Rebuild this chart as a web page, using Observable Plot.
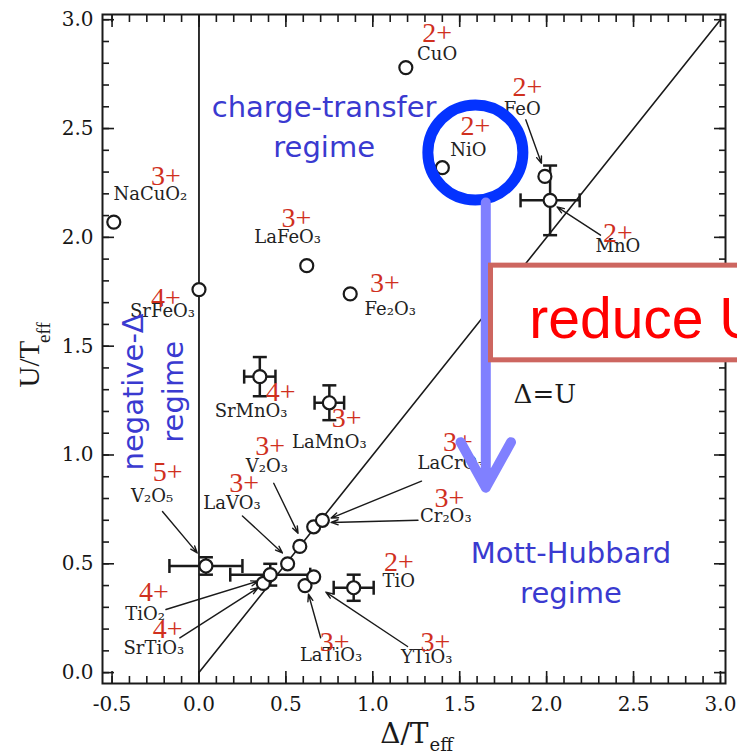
<!DOCTYPE html>
<html><head><meta charset="utf-8">
<script src="https://cdn.jsdelivr.net/npm/d3@7"></script>
<script src="https://cdn.jsdelivr.net/npm/@observablehq/plot@0.6"></script>
<style>
html,body{margin:0;padding:0;background:#fff;overflow:hidden;}
#chart svg{overflow:hidden;display:block;}
</style></head>
<body><div id="chart"></div>
<script>
// ---- data ----
const names   = ["CuO","NiO","FeO","MnO","NaCuO₂","LaFeO₃","SrFeO₃","Fe₂O₃","SrMnO₃","LaMnO₃","V₂O₅","TiO₂","SrTiO₃","LaVO₃","V₂O₃","LaCrO₃","Cr₂O₃","LaTiO₃","YTiO₃","TiO"];
const delta   = [1.19, 1.40, 1.99, 2.02, -0.49, 0.62, 0.00, 0.87, 0.35, 0.75, 0.04, 0.37, 0.41, 0.51, 0.58, 0.66, 0.71, 0.61, 0.66, 0.89];
const uval    = [2.78, 2.32, 2.28, 2.17, 2.07, 1.87, 1.76, 1.74, 1.36, 1.24, 0.49, 0.41, 0.45, 0.50, 0.58, 0.67, 0.70, 0.40, 0.44, 0.39];
const charges = ["2+","2+","2+","2+","3+","3+","4+","3+","4+","3+","5+","4+","4+","3+","3+","3+","3+","3+","3+","2+"];
const deltaErr = [0, 0, 0, 0.17, 0, 0, 0, 0, 0.09, 0.085, 0.21, 0, 0.23, 0, 0, 0, 0, 0, 0, 0.115];
const uErr     = [0, 0, 0, 0.16, 0, 0, 0, 0, 0.09, 0.08, 0.04, 0, 0.05, 0, 0, 0, 0, 0, 0, 0.06];
// label anchor positions (data units)
const labelX  = [1.37, 1.55, 1.86, 2.41, -0.28, 0.51, -0.21, 1.10, 0.30, 0.75, -0.27, -0.31, -0.26, 0.19, 0.39, 1.45, 1.42, 0.76, 1.31, 1.15];
const labelY  = [2.84, 2.40, 2.59, 1.96, 2.20, 2.00, 1.66, 1.67, 1.20, 1.06, 0.81, 0.27, 0.11, 0.78, 0.95, 0.96, 0.72, 0.08, 0.07, 0.42];
const chargeX = [1.37, 1.59, 1.89, 2.41, -0.19, 0.56, -0.19, 1.07, 0.47, 0.85, -0.18, -0.26, -0.18, 0.26, 0.41, 1.49, 1.44, 0.78, 1.36, 1.15];
const chargeY = [2.94, 2.51, 2.69, 2.02, 2.28, 2.09, 1.72, 1.79, 1.29, 1.17, 0.92, 0.37, 0.20, 0.87, 1.04, 1.06, 0.80, 0.14, 0.14, 0.51];
// leader lines (label -> point)
const leaderX1 = [1.88, 2.31, -0.21, 0.25, 0.43, -0.19, -0.11, 0.70, 1.20, 1.28, 1.26];
const leaderY1 = [2.54, 2.01, 0.74, 0.72, 0.87, 0.29, 0.16, 0.16, 0.12, 0.88, 0.70];
const leaderX2 = [1.97, 2.06, -0.01, 0.48, 0.57, 0.34, 0.34, 0.63, 0.73, 0.76, 0.76];
const leaderY2 = [2.34, 2.14, 0.55, 0.55, 0.64, 0.42, 0.39, 0.36, 0.37, 0.71, 0.69];
// axes
const xTicks = [-0.5, 0.0, 0.5, 1.0, 1.5, 2.0, 2.5, 3.0];
const yTicks = [0.0, 0.5, 1.0, 1.5, 2.0, 2.5, 3.0];
const xMinor = d3.range(-5, 31).map(i => i / 10);
const yMinor = d3.range(0, 31).map(i => i / 10);
const diagonal = [0, 3];
// annotations
const regimeText = ["charge-transfer\nregime", "Mott-Hubbard\nregime"];
const regimeX = [0.72, 2.14];
const regimeY = [2.367, 0.318];
const negText = ["negative-Δ\nregime"];
const negX = [-0.09], negY = [1.29];
const ringX = [1.59], ringY = [2.39];
const reduceArrow = [{x: 1.65, y1: 2.16, y2: 0.85}];
const boxX1 = [1.68], boxX2 = [3.2], boxY1 = [1.435], boxY2 = [1.87];
const reduceText = ["reduce U"], reduceX = [1.90], reduceY = [1.536];
const eqText = ["Δ=U"], eqX = [1.81], eqY = [1.24];

const compounds = names.map((n, i) => ({
  name: n, d: delta[i], u: uval[i], charge: charges[i], de: deltaErr[i], ue: uErr[i],
  lx: labelX[i], ly: labelY[i], cx: chargeX[i], cy: chargeY[i]
}));
const withErr = compounds.filter(c => c.de > 0);
const leaders = leaderX1.map((v, i) => ({x1: v, y1: leaderY1[i], x2: leaderX2[i], y2: leaderY2[i]}));

const vbar = {draw(ctx, size) { const r = Math.sqrt(size / Math.PI); ctx.moveTo(0, -r); ctx.lineTo(0, r); }};
const hbar = {draw(ctx, size) { const r = Math.sqrt(size / Math.PI); ctx.moveTo(-r, 0); ctx.lineTo(r, 0); }};

const serif = "DejaVu Serif";
const ink = "#1a1a1a";
const blue = "#3a3ad0";

const plot = Plot.plot({
  width: 737,
  height: 756,
  marginLeft: 102,
  marginRight: 12,
  marginTop: 14,
  marginBottom: 73,
  x: {domain: [-0.555, 3.029], axis: null},
  y: {domain: [-0.05, 3.024], axis: null},
  style: {fontFamily: serif, background: "white", color: ink},
  marks: [
    // tick labels
    Plot.axisX({ticks: xTicks, anchor: "bottom", tickSize: 0, tickPadding: 13, tickFormat: d => d.toFixed(1), fontSize: 20, label: null, fill: "#161616"}),
    Plot.axisY({ticks: yTicks, anchor: "left", tickSize: 0, tickPadding: 9, tickFormat: d => d.toFixed(1), fontSize: 20, label: null, fill: "#161616"}),
    // inward ticks on all four sides
    ...["bottom", "top"].flatMap(a => [
      Plot.axisX({ticks: xMinor, anchor: a, tickSize: -7, fill: "none", label: null, strokeWidth: 1.6}),
      Plot.axisX({ticks: xTicks, anchor: a, tickSize: -12, fill: "none", label: null, strokeWidth: 1.6})
    ]),
    ...["left", "right"].flatMap(a => [
      Plot.axisY({ticks: yMinor, anchor: a, tickSize: -7, fill: "none", label: null, strokeWidth: 1.6}),
      Plot.axisY({ticks: yTicks, anchor: a, tickSize: -12, fill: "none", label: null, strokeWidth: 1.6})
    ]),
    Plot.frame({stroke: ink, strokeWidth: 2}),
    // axis titles
    Plot.text(["Δ/T"], {frameAnchor: "bottom", textAnchor: "end", lineAnchor: "bottom", dx: 14.5, dy: 59, fontSize: 28, fontFamily: serif, fill: ink}),
    Plot.text(["eff"], {frameAnchor: "bottom", textAnchor: "start", lineAnchor: "bottom", dx: 15.5, dy: 67, fontSize: 18, fontFamily: serif, fill: ink}),
    Plot.text(["U/T"], {frameAnchor: "left", rotate: -90, textAnchor: "start", lineAnchor: "bottom", dx: -64, dy: 38.5, fontSize: 29, fontFamily: "Liberation Serif", fill: ink}),
    Plot.text(["eff"], {frameAnchor: "left", rotate: -90, textAnchor: "start", lineAnchor: "bottom", dx: -53, dy: -6, fontSize: 19, fontFamily: "Liberation Serif", fill: ink}),
    // reference lines
    Plot.ruleX([0], {stroke: ink, strokeWidth: 1.8}),
    Plot.line(diagonal, {x: d => d, y: d => d, stroke: ink, strokeWidth: 1.6}),
    // leader lines
    Plot.arrow(leaders, {x1: "x1", y1: "y1", x2: "x2", y2: "y2", stroke: ink, strokeWidth: 1.4, headLength: 8, headAngle: 40}),
    // error bars
    Plot.ruleY(withErr, {y: "u", x1: d => d.d - d.de, x2: d => d.d + d.de, stroke: ink, strokeWidth: 2.5}),
    Plot.ruleX(withErr, {x: "d", y1: d => d.u - d.ue, y2: d => d.u + d.ue, stroke: ink, strokeWidth: 2.5}),
    Plot.dot(withErr, {x: d => d.d - d.de, y: "u", symbol: vbar, r: 7, stroke: ink, fill: "none", strokeWidth: 2.5}),
    Plot.dot(withErr, {x: d => d.d + d.de, y: "u", symbol: vbar, r: 7, stroke: ink, fill: "none", strokeWidth: 2.5}),
    Plot.dot(withErr, {x: "d", y: d => d.u - d.ue, symbol: hbar, r: 7, stroke: ink, fill: "none", strokeWidth: 2.5}),
    Plot.dot(withErr, {x: "d", y: d => d.u + d.ue, symbol: hbar, r: 7, stroke: ink, fill: "none", strokeWidth: 2.5}),
    // data points
    Plot.dot(compounds, {x: "d", y: "u", r: 6.5, fill: "white", stroke: ink, strokeWidth: 2.2}),
    // labels
    Plot.text(compounds, {x: "lx", y: "ly", text: "name", fontSize: 18, fontFamily: serif, fill: "#222"}),
    Plot.text(compounds, {x: "cx", y: "cy", text: "charge", fontSize: 28, fontFamily: "Liberation Serif", fill: "#d0301e"}),
    Plot.text(eqText, {x: eqX, y: eqY, text: d => d, textAnchor: "start", lineAnchor: "bottom", fontSize: 26, fontFamily: serif, fill: ink}),
    // regime annotations
    Plot.text(regimeText, {x: regimeX, y: regimeY, text: d => d, lineAnchor: "bottom", lineHeight: 1.4, fontSize: 29, fontFamily: "DejaVu Sans", fill: blue}),
    Plot.text(negText, {x: negX, y: negY, text: d => d, rotate: -90, lineAnchor: "bottom", lineHeight: 1.4, fontSize: 29, fontFamily: "DejaVu Sans", fill: blue}),
    // highlight overlay
    Plot.dot(ringX, {x: d => d, y: (d, i) => ringY[i], r: 47.5, stroke: "#0433ff", strokeWidth: 11, fill: "none"}),
    Plot.arrow(reduceArrow, {x: "x", y1: "y1", y2: "y2", stroke: "#8080ff", strokeWidth: 10, headLength: 7.8, headAngle: 58, strokeLinecap: "round", strokeLinejoin: "round"}),
    Plot.rect(boxX1, {x1: d => d, x2: (d, i) => boxX2[i], y1: (d, i) => boxY1[i], y2: (d, i) => boxY2[i], fill: "white", stroke: "#cd6660", strokeWidth: 5}),
    Plot.text(reduceText, {x: reduceX, y: reduceY, text: d => d, textAnchor: "start", lineAnchor: "bottom", fontSize: 57, fontFamily: "Liberation Sans", fill: "#ff0000"})
  ]
});
document.getElementById("chart").appendChild(plot);
</script>
</body></html>
